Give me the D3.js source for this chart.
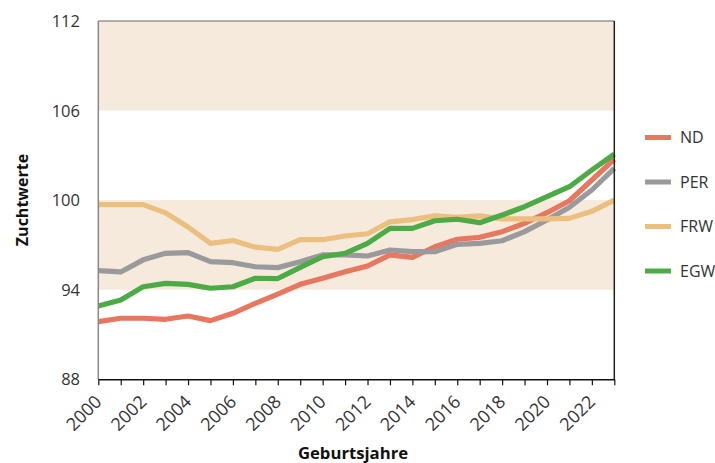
<!DOCTYPE html>
<html>
<head>
<meta charset="utf-8">
<script src="https://cdn.jsdelivr.net/npm/d3@7"></script>
<style>
  body { margin: 0; background: #fff; }
  svg text { font-family: "Open Sans", "Noto Sans", sans-serif; fill: #333; }
</style>
</head>
<body>
<div id="chart"></div>
<script>
// data
const years = d3.range(2000, 2024);
const ND  = [91.86, 92.09, 92.09, 92.02, 92.24, 91.93, 92.42, 93.09, 93.71, 94.36, 94.77, 95.21,
             95.59, 96.33, 96.17, 96.88, 97.38, 97.51, 97.89, 98.45, 99.16, 99.96, 101.35, 102.74];
const PER = [95.28, 95.19, 96.0, 96.44, 96.48, 95.88, 95.81, 95.54, 95.48, 95.88, 96.33, 96.33,
             96.26, 96.66, 96.55, 96.55, 97.04, 97.1, 97.28, 97.89, 98.67, 99.52, 100.68, 102.13];
const FRW = [99.7, 99.7, 99.7, 99.15, 98.2, 97.1, 97.3, 96.85, 96.7, 97.35, 97.35, 97.6,
             97.75, 98.55, 98.7, 98.95, 98.85, 98.95, 98.75, 98.75, 98.75, 98.78, 99.25, 100.0];
const EGW = [92.91, 93.31, 94.2, 94.43, 94.36, 94.1, 94.2, 94.77, 94.75, 95.5, 96.21, 96.44,
             97.1, 98.11, 98.11, 98.62, 98.72, 98.49, 99.0, 99.56, 100.23, 100.9, 102.02, 103.09];
const seriesNames = ["ND", "PER", "FRW", "EGW"];
const yTicks = [88, 94, 100, 106, 112];
const bands = [[94, 100], [106, 112]];

const colors = { ND: "#e8775f", PER: "#9a9a9c", FRW: "#ebbf7f", EGW: "#4dab46" };
const seriesData = { ND, PER, FRW, EGW };

const width = 715, height = 463;
const svg = d3.select("#chart").append("svg")
    .attr("width", width)
    .attr("height", height);

const x = d3.scaleLinear().domain([2000, 2023]).range([98.3, 614.3]);
const y = d3.scaleLinear().domain([88, 112]).range([379.3, 21]);

// background bands
svg.selectAll("rect.band")
    .data(bands)
    .enter().append("rect")
    .attr("class", "band")
    .attr("x", x(2000))
    .attr("width", x(2023) - x(2000))
    .attr("y", d => y(d[1]))
    .attr("height", d => y(d[0]) - y(d[1]))
    .style("fill", "#f5eadb");

// lines
const line = d3.line()
    .x((d, i) => x(years[i]))
    .y(d => y(d));

svg.selectAll("path.series")
    .data(seriesNames)
    .enter().append("path")
    .attr("class", "series")
    .attr("d", d => line(seriesData[d]))
    .style("fill", "none")
    .style("stroke", d => colors[d])
    .style("stroke-width", 5.2)
    .style("stroke-linejoin", "round");

// frame
svg.append("line")
    .attr("x1", x(2000)).attr("x2", x(2023))
    .attr("y1", y(112)).attr("y2", y(112))
    .style("stroke", "#666").style("stroke-width", 1.2);
svg.append("line")
    .attr("x1", x(2023)).attr("x2", x(2023))
    .attr("y1", y(112)).attr("y2", y(88))
    .style("stroke", "#222").style("stroke-width", 1.5);
svg.append("line")
    .attr("x1", x(2000)).attr("x2", x(2000))
    .attr("y1", y(112)).attr("y2", y(88))
    .style("stroke", "#888").style("stroke-width", 1.5);

// x axis
const xAxis = svg.append("g")
    .attr("transform", "translate(0," + y(88) + ")")
    .call(d3.axisBottom(x).tickValues(years).tickSize(6).tickSizeOuter(0).tickFormat(""));
xAxis.select(".domain").style("stroke", "#111").style("stroke-width", 1.5);
xAxis.selectAll(".tick line").style("stroke", "#111").style("stroke-width", 1.2);

svg.selectAll("text.xlab")
    .data(years.filter(d => d % 2 === 0))
    .enter().append("text")
    .attr("class", "xlab")
    .attr("transform", d => "translate(" + (x(d) + 4.5) + ",403) rotate(-45)")
    .attr("text-anchor", "end")
    .style("font-size", "18px")
    .text(d => d);

// y labels
svg.selectAll("text.ylab")
    .data(yTicks)
    .enter().append("text")
    .attr("class", "ylab")
    .attr("x", 80)
    .attr("y", d => y(d))
    .attr("dy", "0.36em")
    .attr("text-anchor", "end")
    .style("font-size", "16.5px")
    .text(d => d);

// axis titles
svg.append("text")
    .attr("transform", "translate(28,200) rotate(-90)")
    .attr("text-anchor", "middle")
    .style("font-size", "16px")
    .style("font-weight", "bold")
    .style("fill", "#111")
    .text("Zuchtwerte");

svg.append("text")
    .attr("x", 353)
    .attr("y", 459)
    .attr("text-anchor", "middle")
    .style("font-size", "16.7px")
    .style("font-weight", "bold")
    .style("fill", "#111")
    .text("Geburtsjahre");

// legend
const legend = svg.selectAll("g.legend")
    .data(seriesNames)
    .enter().append("g")
    .attr("class", "legend")
    .attr("transform", (d, i) => "translate(645," + (137.5 + i * 44.5) + ")");
legend.append("line")
    .attr("x1", 0).attr("x2", 26)
    .style("stroke", d => colors[d])
    .style("stroke-width", 5);
legend.append("text")
    .attr("x", 35)
    .attr("dy", "0.36em")
    .style("font-size", "16px")
    .text(d => d);
</script>
</body>
</html>
